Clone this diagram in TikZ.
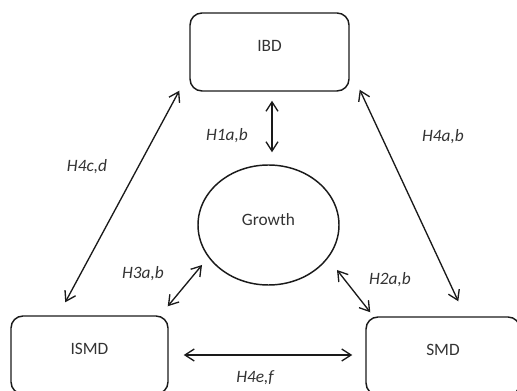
\documentclass[tikz,border=0pt]{standalone}
\usepackage{fontspec}
\setmainfont{Carlito}
\usetikzlibrary{calc}
\usetikzlibrary{positioning}
\usetikzlibrary{shapes.geometric}
\usetikzlibrary{arrows.meta}
\definecolor{lineColor}{HTML}{1A1A1A}
\definecolor{textColor}{HTML}{333333}

\begin{document}
\begin{tikzpicture}[
			x=0.75pt, y=-0.75pt,
			box/.style={draw=lineColor, line width=1.1pt, rounded corners=9pt, minimum height=58.5pt, text depth=9pt, font=\fontsize{13}{15}\selectfont, text=textColor},
			oval/.style={ellipse, draw=lineColor, line width=1.1pt, minimum width=105.75pt, minimum height=90pt, inner sep=0pt, text depth=9pt, font=\fontsize{13}{15}\selectfont, text=textColor},
			link/.style={{Straight Barb[length=7pt,width=9pt]}-{Straight Barb[length=7pt,width=9pt]}, draw=lineColor, line width=1pt},
			hyp/.style={font=\fontsize{13}{15}\selectfont\itshape, text=textColor},
			]
			\useasboundingbox (0,0) rectangle (517,391);
			\clip (0,0) rectangle (517,391);
			\node[box, minimum width=119.25pt] (ibd) at (269.5,52) {IBD};
			\node[box, minimum width=117.75pt] (ismd) at (89.5,355) {ISMD};
			\node[box, minimum width=115.5pt] (smd) at (443,356) {SMD};
			\node[oval] (growth) at (268.5,225) {Growth};
			\draw[link] ($(ibd.south)+(2.5,9)$) -- ($(growth.north)+(3.5,-12)$);
			\draw[link] ($(ibd.south west)+(-10,-1)$) -- ($(ismd.north west)+(55,-13)$);
			\draw[link] ($(ibd.south east)+(10,-2)$) -- ($(smd.north west)+(93,-15)$);
			\draw[link] ($(growth.center)+(-66.5,40)$) -- ($(ismd.north east)+(-1,-9)$);
			\draw[link] ($(growth.center)+(68.5,45)$) -- ($(smd.north west)+(5,-4)$);
			\draw[link] ($(ismd.east)+(15,0)$) -- ($(smd.west)+(-13,-1)$);
			\node[hyp] (h1) at (227,136) {H1a,b};
			\node[hyp] (h4cd) at (87,167) {H4c,d};
			\node[hyp] (h4ab) at (443,137) {H4a,b};
			\node[hyp] (h3) at (143,274) {H3a,b};
			\node[hyp] (h2) at (390,280) {H2a,b};
			\node[hyp] (h4ef) at (255,378) {H4e,f};
		\end{tikzpicture}
\end{document}
